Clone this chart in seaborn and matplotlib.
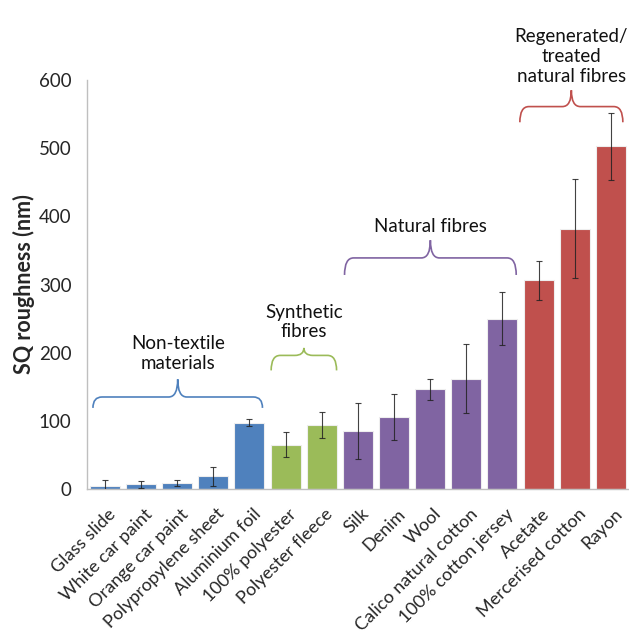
import numpy as np
import pandas as pd
import seaborn as sns
import matplotlib
matplotlib.use("Agg")
import matplotlib.pyplot as plt
from matplotlib.path import Path
from matplotlib.patches import PathPatch
import matplotlib.transforms as mtransforms

categories = ["Glass slide", "White car paint", "Orange car paint", "Polypropylene sheet",
              "Aluminium foil", "100% polyester", "Polyester fleece", "Silk", "Denim", "Wool",
              "Calico natural cotton", "100% cotton jersey", "Acetate", "Mercerised cotton", "Rayon"]
values = [5, 7, 9, 19, 97, 65, 94, 85, 106, 146, 162, 250, 306, 382, 503]
errors = [8, 5, 4, 14, 5, 18, 19, 41, 34, 16, 51, 39, 29, 73, 49]
groups = ["Non-textile"] * 5 + ["Synthetic"] * 2 + ["Natural"] * 5 + ["Regenerated"] * 3
group_colors = {"Non-textile": "#4F81BD", "Synthetic": "#9BBB59",
                "Natural": "#8064A2", "Regenerated": "#C0504D"}
bracket_labels = ["Non-textile\nmaterials", "Synthetic\nfibres", "Natural fibres",
                  "Regenerated/\ntreated\nnatural fibres"]

sns.set_style("white")
plt.rcParams["font.family"] = ["Lato", "DejaVu Sans"]

df = pd.DataFrame({"cat": categories, "val": values, "grp": groups})

fig = plt.figure(figsize=(6.29, 6.39), dpi=100)
ax = fig.add_axes([0.138, 0.2347, 0.862, 0.6401])

sns.barplot(data=df, x="cat", y="val", hue="grp", palette=group_colors, dodge=False,
            width=0.83, saturation=1, legend=False, ax=ax, edgecolor="#eeeeee", linewidth=0.8)
ax.errorbar(np.arange(len(values)), values, yerr=errors, fmt="none", ecolor="#222222",
            elinewidth=0.8, capsize=2.5, capthick=0.8, alpha=0.85, zorder=5)

ax.set_xlim(-0.5, len(values) - 0.5)
ax.set_ylim(0, 600)
ax.set_yticks(range(0, 601, 100))
ax.set_xlabel("")
ax.set_ylabel("SQ roughness (nm)", fontsize=15.5, fontweight="bold", labelpad=3)
for s in ["top", "right"]:
    ax.spines[s].set_visible(False)
for s in ["left", "bottom"]:
    ax.spines[s].set_color("#BFBFBF")
    ax.spines[s].set_linewidth(1.0)
ax.tick_params(axis="y", direction="out", length=5, color="#BFBFBF", labelsize=13.5, pad=6)
ax.tick_params(axis="x", which="major", length=0, labelsize=13, pad=12)
ax.set_xticks(np.arange(-0.5, len(values), 1.0), minor=True)
ax.tick_params(axis="x", which="minor", direction="out", length=5, color="#BFBFBF")
offset = mtransforms.ScaledTranslation(3 / 100, 0, fig.dpi_scale_trans)
ax.set_xticks(np.arange(len(values)))
ax.set_xticklabels(categories)
for lab in ax.get_xticklabels():
    lab.set_rotation(45)
    lab.set_ha("right")
    lab.set_va("top")
    lab.set_rotation_mode("anchor")
    lab.set_transform(lab.get_transform() + offset)


def brace(ax, x0, x1, yb, yh, yc, color, dx=0.25):
    xm = (x0 + x1) / 2
    verts = [(x0, yb), (x0, yh), (x0 + dx, yh), (xm - dx, yh), (xm, yh), (xm, yc),
             (xm, yh), (xm + dx, yh), (x1 - dx, yh), (x1, yh), (x1, yb)]
    codes = [Path.MOVETO, Path.CURVE3, Path.CURVE3, Path.LINETO, Path.CURVE3, Path.CURVE3,
             Path.CURVE3, Path.CURVE3, Path.LINETO, Path.CURVE3, Path.CURVE3]
    ax.add_patch(PathPatch(Path(verts, codes), fill=False, edgecolor=color, lw=1.2,
                           clip_on=False, zorder=6))


brackets = [(-0.33, 4.36, 119, 135, 161, "#4F81BD"),
            (4.6, 6.41, 174, 196, 207, "#9BBB59"),
            (6.63, 11.38, 314, 339, 365, "#8064A2"),
            (11.48, 14.33, 538, 561, 585, "#C0504D")]
text_y = [172, 218, 373, 593]
for (x0, x1, yb, yh, yc, c), lbl, ty in zip(brackets, bracket_labels, text_y):
    brace(ax, x0, x1, yb, yh, yc, c)
    ax.text((x0 + x1) / 2, ty, lbl, ha="center", va="bottom", fontsize=13.5,
            linespacing=1.2, clip_on=False, color="#111111")

fig.savefig("out.png", dpi=100)
